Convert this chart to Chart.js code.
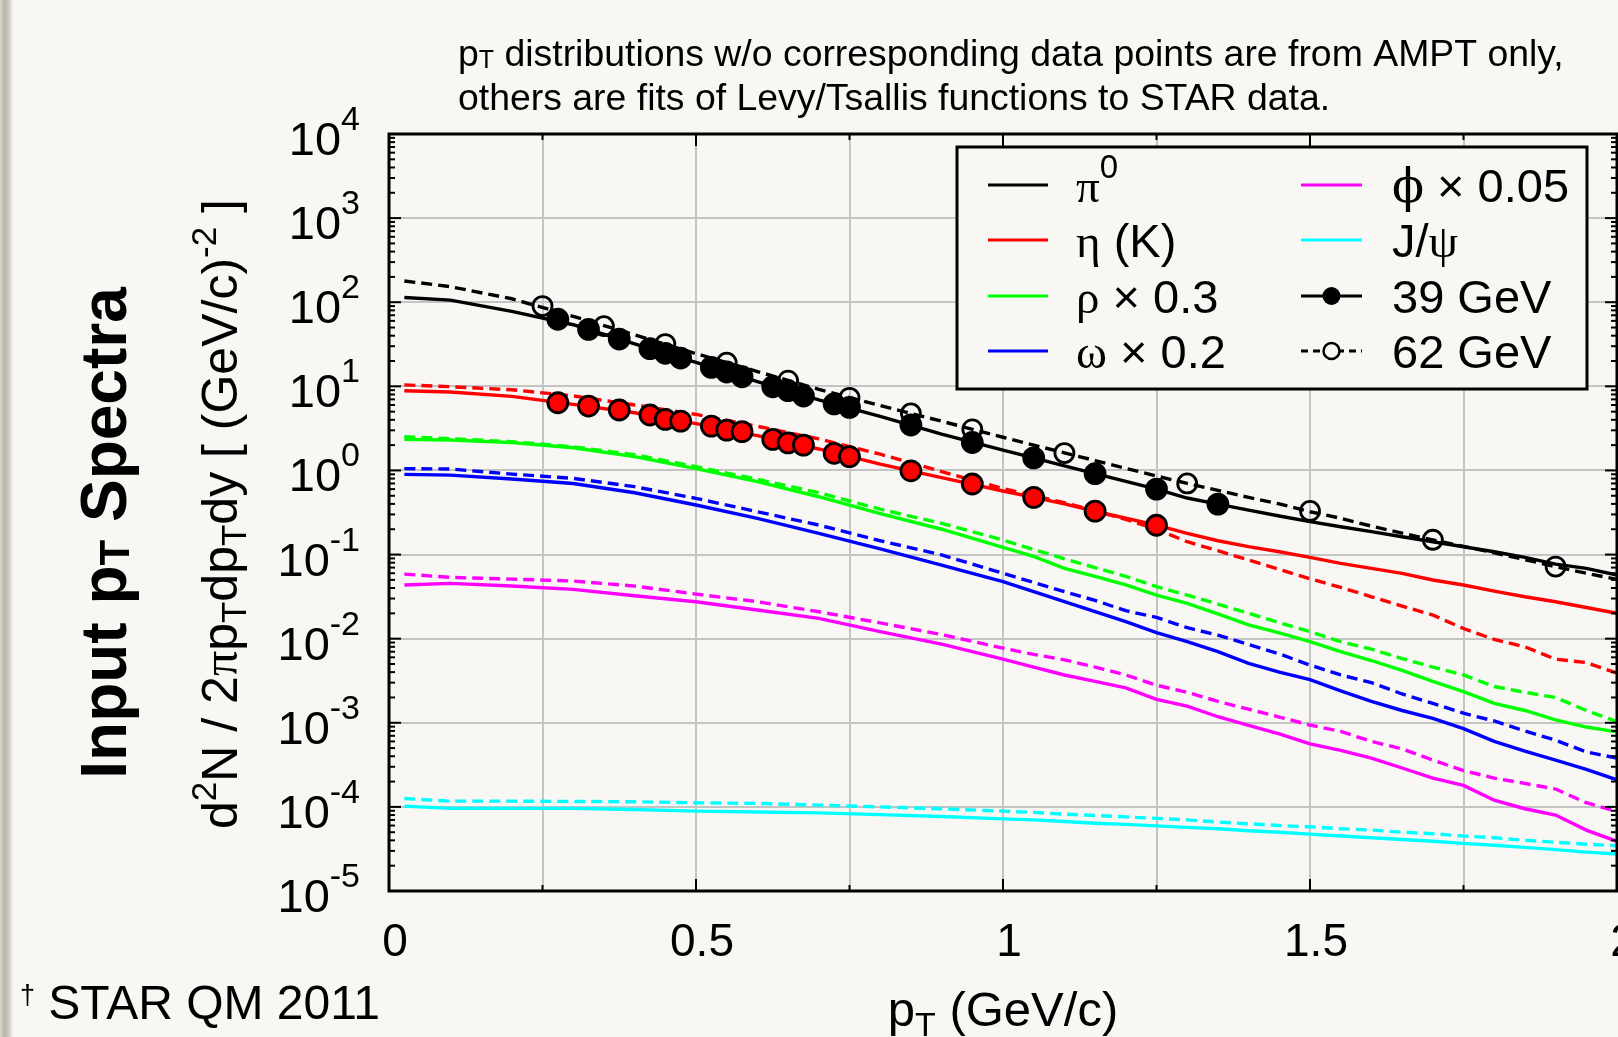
<!DOCTYPE html>
<html>
<head>
<meta charset="utf-8">
<title>Input pT Spectra</title>
<script src="https://cdn.jsdelivr.net/npm/chart.js@4.4.1/dist/chart.umd.min.js"></script>
<style>
  html, body { margin: 0; padding: 0; background: #f8f7f3; overflow: hidden; }
  canvas { display: block; }
</style>
</head>
<body>
<canvas id="spectra" width="1618" height="1037"></canvas>
<script>
// pT bin centres shared by all model / fit curves (GeV/c)
const pt = [0.025, 0.1, 0.2, 0.3, 0.4, 0.5, 0.6, 0.7, 0.8, 0.9,
  1.0, 1.05, 1.1, 1.15, 1.2, 1.25, 1.3, 1.35, 1.4, 1.45,
  1.5, 1.55, 1.6, 1.65, 1.7, 1.75, 1.8, 1.85, 1.9, 1.95, 2.0];

// solid = 39 GeV, dashed = 62 GeV
const pi39 = [114, 106, 78, 54, 32, 19.3, 11.4, 6.9, 4.4, 2.7,
  1.74, 1.41, 1.13, 0.915, 0.74, 0.60, 0.47, 0.398, 0.338, 0.287,
  0.246, 0.214, 0.187, 0.163, 0.142, 0.124, 0.108, 0.0925, 0.077, 0.0685, 0.057];
const pi62 = [179, 153, 110, 68, 41, 24.5, 15, 9.2, 5.9, 3.85,
  2.48, 2.0, 1.62, 1.31, 1.06, 0.86, 0.70, 0.58, 0.478, 0.40,
  0.323, 0.27, 0.218, 0.18, 0.149, 0.125, 0.105, 0.087, 0.0718, 0.06, 0.0507];
const eta39 = [8.87, 8.55, 7.6, 6.1, 4.85, 3.6, 2.6, 1.8, 1.19, 0.82,
  0.57, 0.478, 0.40, 0.327, 0.27, 0.224, 0.179, 0.146, 0.124, 0.108,
  0.0925, 0.0785, 0.0685, 0.0597, 0.0498, 0.0434, 0.0368, 0.0315, 0.0275, 0.0235, 0.020];
const eta62 = [10.4, 9.9, 9.1, 7.7, 6.0, 4.64, 3.35, 2.37, 1.56, 0.97,
  0.61, 0.50, 0.414, 0.33, 0.262, 0.20, 0.142, 0.111, 0.0861, 0.0667,
  0.0516, 0.0407, 0.0315, 0.0244, 0.0191, 0.0132, 0.0098, 0.0080, 0.0057, 0.0052, 0.0039];
const rho39 = [2.34, 2.30, 2.14, 1.86, 1.46, 1.05, 0.735, 0.487, 0.306, 0.20,
  0.122, 0.095, 0.0685, 0.055, 0.0435, 0.033, 0.0262, 0.0197, 0.0146, 0.0117,
  0.0092, 0.0070, 0.0055, 0.0042, 0.0031, 0.00235, 0.0017, 0.0014, 0.00108, 0.00089, 0.00078];
const rho62 = [2.52, 2.38, 2.2, 1.91, 1.54, 1.11, 0.784, 0.544, 0.346, 0.235,
  0.149, 0.115, 0.089, 0.07, 0.055, 0.0415, 0.033, 0.0258, 0.020, 0.0155,
  0.0121, 0.0092, 0.0075, 0.0058, 0.0046, 0.0037, 0.0027, 0.0023, 0.0020, 0.0014, 0.00103];
const omega39 = [0.898, 0.88, 0.79, 0.70, 0.543, 0.388, 0.269, 0.179, 0.117, 0.075,
  0.0476, 0.0362, 0.0276, 0.0209, 0.0159, 0.0118, 0.0092, 0.0070, 0.0051, 0.0040,
  0.00325, 0.0024, 0.0018, 0.0014, 0.00113, 0.00085, 0.0006, 0.00046, 0.00036, 0.00028, 0.00021];
const omega62 = [1.05, 1.04, 0.905, 0.805, 0.641, 0.466, 0.323, 0.224, 0.146, 0.099,
  0.0598, 0.0465, 0.0362, 0.0285, 0.0215, 0.0179, 0.0135, 0.011, 0.0085, 0.0066,
  0.00485, 0.0037, 0.003, 0.0022, 0.0017, 0.0013, 0.00105, 0.0008, 0.00062, 0.00045, 0.00038];
const phi39 = [0.0434, 0.0454, 0.0422, 0.0385, 0.0324, 0.0275, 0.0219, 0.0174, 0.0121, 0.0086,
  0.0057, 0.0046, 0.0037, 0.0031, 0.0026, 0.0019, 0.00158, 0.00118, 0.00093, 0.00074,
  0.00056, 0.00047, 0.00038, 0.00029, 0.00022, 0.00018, 0.00012, 0.000095, 0.00008, 0.000053, 0.000039];
const phi62 = [0.0586, 0.0535, 0.0511, 0.0484, 0.0422, 0.0339, 0.0275, 0.0209, 0.0154, 0.0112,
  0.0077, 0.0065, 0.0056, 0.0046, 0.0037, 0.0028, 0.0023, 0.0018, 0.00145, 0.00117,
  0.00094, 0.00079, 0.0006, 0.00049, 0.00036, 0.00027, 0.00022, 0.00019, 0.000163, 0.000112, 0.000088];
const jpsi39 = [1.02e-4, 9.6e-5, 9.6e-5, 9.6e-5, 9.3e-5, 8.9e-5, 8.7e-5, 8.5e-5, 8.1e-5, 7.7e-5,
  7.2e-5, 7.0e-5, 6.7e-5, 6.4e-5, 6.2e-5, 5.95e-5, 5.7e-5, 5.5e-5, 5.2e-5, 5.0e-5,
  4.75e-5, 4.5e-5, 4.3e-5, 4.1e-5, 3.9e-5, 3.68e-5, 3.5e-5, 3.3e-5, 3.1e-5, 2.9e-5, 2.75e-5];
const jpsi62 = [1.26e-4, 1.17e-4, 1.17e-4, 1.16e-4, 1.15e-4, 1.12e-4, 1.1e-4, 1.05e-4, 1.0e-4, 9.5e-5,
  8.9e-5, 8.6e-5, 8.2e-5, 7.9e-5, 7.6e-5, 7.3e-5, 7.0e-5, 6.6e-5, 6.3e-5, 6.0e-5,
  5.8e-5, 5.5e-5, 5.3e-5, 5.0e-5, 4.8e-5, 4.5e-5, 4.3e-5, 4.0e-5, 3.8e-5, 3.6e-5, 3.45e-5];

// STAR data points
const piDataPt39 = [0.275, 0.325, 0.375, 0.425, 0.45, 0.475, 0.525, 0.55, 0.575, 0.625,
  0.65, 0.675, 0.725, 0.75, 0.85, 0.95, 1.05, 1.15, 1.25, 1.35];
const piData39 = [62.7, 47.6, 36.5, 28, 24.7, 21.7, 16.8, 14.8, 13.0, 9.89,
  8.87, 7.67, 6.17, 5.63, 3.47, 2.15, 1.41, 0.915, 0.60, 0.398];
const kDataPt39 = [0.275, 0.325, 0.375, 0.425, 0.45, 0.475, 0.525, 0.55, 0.575, 0.625,
  0.65, 0.675, 0.725, 0.75, 0.85, 0.95, 1.05, 1.15, 1.25];
const kData39 = [6.38, 5.83, 5.23, 4.56, 4.05, 3.86, 3.37, 3.02, 2.89, 2.34,
  2.13, 2.0, 1.60, 1.46, 0.99, 0.69, 0.479, 0.328, 0.223];
const piDataPt62 = [0.25, 0.35, 0.45, 0.55, 0.65, 0.75, 0.85, 0.95, 1.1, 1.3, 1.5, 1.7, 1.9];
const piData62 = [90, 52, 31.8, 19.1, 11.7, 7.3, 4.77, 3.08, 1.61, 0.70, 0.33, 0.15, 0.072];

// axis labels
const xTickValues = [0, 0.5, 1, 1.5, 2];
const xTickLabels = ["0", "0.5", "1", "1.5", "2"];
const yTickExponents = [-5, -4, -3, -2, -1, 0, 1, 2, 3, 4];

const SANS = '"Liberation Sans", Arial, Helvetica, sans-serif';
const SERIF = '"DejaVu Serif", "Liberation Serif", "Times New Roman", serif';
const GREEK = '"Liberation Serif", "DejaVu Serif", serif';
const BG = "#f8f7f3";
const GRID = "#c4c4c4";
const DASH = [11, 6];

const toPoints = (xs, ys) => xs.map((x, i) => ({ x, y: ys[i] }));

function curve(values, color, dashed) {
  return {
    data: toPoints(pt, values),
    borderColor: color,
    borderWidth: 3.4,
    borderDash: dashed ? DASH : [],
    pointRadius: 0,
    fill: false,
    tension: 0,
  };
}

function markers(xs, ys, fillColor, edgeColor, radius) {
  return {
    data: toPoints(xs, ys),
    showLine: false,
    pointRadius: radius,
    pointBorderWidth: 2.8,
    pointBackgroundColor: fillColor,
    pointBorderColor: edgeColor,
  };
}

function fontOf(s) {
  return (s.bold ? "bold " : "") + s.size + "px " + (s.family || SANS);
}

function drawRich(ctx, segs, x, y, align) {
  let w = 0;
  segs.forEach(s => { ctx.font = fontOf(s); w += ctx.measureText(s.t).width; });
  let cx = align === "center" ? x - w / 2 : align === "right" ? x - w : x;
  ctx.textAlign = "left";
  ctx.textBaseline = "alphabetic";
  segs.forEach(s => {
    ctx.font = fontOf(s);
    ctx.fillText(s.t, cx, y + (s.dy || 0));
    cx += ctx.measureText(s.t).width;
  });
}

function seg(t, size, extra) {
  return Object.assign({ t, size }, extra || {});
}

const isDecade = v => Math.abs(Math.log10(v) - Math.round(Math.log10(v))) < 1e-6;

const backgroundPlugin = {
  id: "background",
  beforeDraw(chart) {
    const { ctx, width, height } = chart;
    ctx.save();
    ctx.fillStyle = BG;
    ctx.fillRect(0, 0, width, height);
    const g = ctx.createLinearGradient(0, 0, 13, 0);
    g.addColorStop(0, "#d9d6cd");
    g.addColorStop(0.35, "#b9b5aa");
    g.addColorStop(0.7, "#cfccc3");
    g.addColorStop(1, BG);
    ctx.fillStyle = g;
    ctx.fillRect(0, 0, 13, height);
    ctx.restore();
  },
};

const framePlugin = {
  id: "frame",
  afterDraw(chart) {
    const { ctx, chartArea: a } = chart;
    const xs = chart.scales.x;
    const ys = chart.scales.y;
    ctx.save();
    ctx.strokeStyle = "#000";
    ctx.fillStyle = "#000";

    const seg2 = (x1, y1, x2, y2) => {
      ctx.beginPath(); ctx.moveTo(x1, y1); ctx.lineTo(x2, y2); ctx.stroke();
    };

    // tick marks inside the frame
    ctx.lineWidth = 2;
    xs.ticks.forEach(t => {
      const px = xs.getPixelForValue(t.value);
      const len = Math.abs(t.value * 2 - Math.round(t.value * 2)) < 1e-6 ? 12 : 6;
      seg2(px, a.bottom, px, a.bottom - len);
      seg2(px, a.top, px, a.top + len);
    });
    yTickExponents.forEach(e => {
      for (let m = 1; m <= 9; m++) {
        if (e === 4 && m > 1) break;
        const py = ys.getPixelForValue(m * Math.pow(10, e));
        const len = m === 1 ? 12 : 6;
        seg2(a.left, py, a.left + len, py);
        seg2(a.right, py, a.right - len, py);
      }
    });

    // frame
    ctx.lineWidth = 3;
    ctx.strokeRect(a.left, a.top, a.right - a.left, a.bottom - a.top);

    // x tick labels
    xTickValues.forEach((v, i) => {
      drawRich(ctx, [seg(xTickLabels[i], 46)], xs.getPixelForValue(v) + 6, 956, "center");
    });

    // y tick labels 10^n
    yTickExponents.forEach(e => {
      const py = ys.getPixelForValue(Math.pow(10, e));
      const sup = seg(String(e), 34);
      ctx.font = fontOf(sup);
      const sw = ctx.measureText(sup.t).width;
      const right = 360;
      ctx.textAlign = "left";
      ctx.fillText(sup.t, right - sw, py - 4);
      drawRich(ctx, [seg("10", 47)], right - sw, py + 21, "right");
    });

    // axis titles
    drawRich(ctx, [seg("p", 49), seg("T", 34, { dy: 10 }), seg(" (GeV/c)", 49)], 1003, 1026, "center");

    ctx.save();
    ctx.translate(237, 514);
    ctx.rotate(-Math.PI / 2);
    drawRich(ctx, [
      seg("d", 50), seg("2", 35, { dy: -21 }), seg("N / 2", 50), seg("\u03c0", 50, { family: GREEK }),
      seg("p", 50), seg("T", 35, { dy: 9 }), seg("dp", 50), seg("T", 35, { dy: 9 }),
      seg("dy [ (GeV/c)", 50), seg("-2", 35, { dy: -21 }), seg(" ]", 50),
    ], 0, 0, "center");
    ctx.restore();

    ctx.save();
    ctx.translate(126, 533);
    ctx.rotate(-Math.PI / 2);
    drawRich(ctx, [
      seg("Input p", 64, { bold: true }), seg("T", 42, { bold: true, dy: 3 }), seg(" Spectra", 64, { bold: true }),
    ], 0, 0, "center");
    ctx.restore();

    // header note and footnote
    drawRich(ctx, [seg("p", 37.4), seg("T", 25, { dy: 2 }),
      seg(" distributions w/o corresponding data points are from AMPT only,", 37.4)], 458, 66, "left");
    drawRich(ctx, [seg("others are fits of Levy/Tsallis functions to STAR data.", 37.4)], 458, 110, "left");
    drawRich(ctx, [seg("\u2020", 27, { dy: -15 }), seg(" STAR QM 2011", 48)], 20, 1019, "left");

    // legend
    const box = { left: 957, top: 147, right: 1587, bottom: 389 };
    ctx.fillStyle = BG;
    ctx.fillRect(box.left, box.top, box.right - box.left, box.bottom - box.top);
    ctx.lineWidth = 3;
    ctx.strokeRect(box.left, box.top, box.right - box.left, box.bottom - box.top);
    ctx.fillStyle = "#000";

    const rows = [185, 240, 296, 351];
    const cols = [{ l1: 988, l2: 1048, tx: 1076 }, { l1: 1301, l2: 1362, tx: 1392 }];
    const entries = [
      { col: 0, row: 0, color: "#000", label: [seg("\u03c0", 47, { family: GREEK }), seg("0", 33, { dy: -24 })] },
      { col: 0, row: 1, color: "#ff0000", label: [seg("\u03b7", 47, { family: GREEK }), seg(" (K)", 47)] },
      { col: 0, row: 2, color: "#00ff00", label: [seg("\u03c1", 47, { family: GREEK }), seg(" \u00d7 0.3", 47)] },
      { col: 0, row: 3, color: "#0000ff", label: [seg("\u03c9", 47, { family: GREEK }), seg(" \u00d7 0.2", 47)] },
      { col: 1, row: 0, color: "#ff00ff", label: [seg("\u03d5", 47, { family: SERIF }), seg(" \u00d7 0.05", 47)] },
      { col: 1, row: 1, color: "#00ffff", label: [seg("J/", 47), seg("\u03c8", 47, { family: GREEK })] },
      { col: 1, row: 2, color: "#000", mark: "filled", label: [seg("39 GeV", 47)] },
      { col: 1, row: 3, color: "#000", mark: "open", dashed: true, label: [seg("62 GeV", 47)] },
    ];
    entries.forEach(en => {
      const c = cols[en.col];
      const y = rows[en.row];
      ctx.strokeStyle = en.color;
      ctx.lineWidth = 3;
      ctx.setLineDash(en.dashed ? [7, 5] : []);
      seg2(c.l1, y, c.l2, y);
      ctx.setLineDash([]);
      const cx = (c.l1 + c.l2) / 2;
      if (en.mark === "filled") {
        ctx.beginPath(); ctx.arc(cx, y, 9, 0, Math.PI * 2);
        ctx.fillStyle = "#000"; ctx.fill();
      } else if (en.mark === "open") {
        ctx.beginPath(); ctx.arc(cx, y, 8, 0, Math.PI * 2);
        ctx.fillStyle = BG; ctx.fill();
        ctx.strokeStyle = "#000"; ctx.lineWidth = 2.5; ctx.stroke();
      }
      ctx.fillStyle = "#000";
      drawRich(ctx, en.label, c.tx, y + 17, "left");
    });

    ctx.restore();
  },
};

const ctx = document.getElementById("spectra");

new Chart(ctx, {
  type: "line",
  data: {
    datasets: [
      markers(piDataPt62, piData62, "rgba(0,0,0,0)", "#000", 9.5),
      markers(piDataPt39, piData39, "#000", "#000", 10),
      markers(kDataPt39, kData39, "#ff0000", "#000", 10),
      curve(pi39, "#000", false),
      curve(pi62, "#000", true),
      curve(eta39, "#ff0000", false),
      curve(eta62, "#ff0000", true),
      curve(rho39, "#00ff00", false),
      curve(rho62, "#00ff00", true),
      curve(omega39, "#0000ff", false),
      curve(omega62, "#0000ff", true),
      curve(phi39, "#ff00ff", false),
      curve(phi62, "#ff00ff", true),
      curve(jpsi39, "#00ffff", false),
      curve(jpsi62, "#00ffff", true),
    ],
  },
  options: {
    responsive: false,
    animation: false,
    devicePixelRatio: 1,
    layout: { autoPadding: false, padding: { left: 0, right: 1, top: 134, bottom: 146 } },
    plugins: { legend: { display: false }, tooltip: { enabled: false } },
    scales: {
      x: {
        type: "linear",
        min: 0,
        max: 2,
        ticks: { display: false, stepSize: 0.25 },
        grid: { color: GRID, lineWidth: 2, drawTicks: false },
        border: { display: false },
        afterFit: s => { s.height = 0; },
      },
      y: {
        type: "logarithmic",
        min: 1e-5,
        max: 1e4,
        ticks: { display: false },
        grid: {
          color: c => (c.tick && isDecade(c.tick.value) ? GRID : "rgba(0,0,0,0)"),
          lineWidth: 2,
          drawTicks: false,
        },
        border: { display: false },
        afterFit: s => { s.width = 389; },
      },
    },
  },
  plugins: [backgroundPlugin, framePlugin],
});
</script>
</body>
</html>
